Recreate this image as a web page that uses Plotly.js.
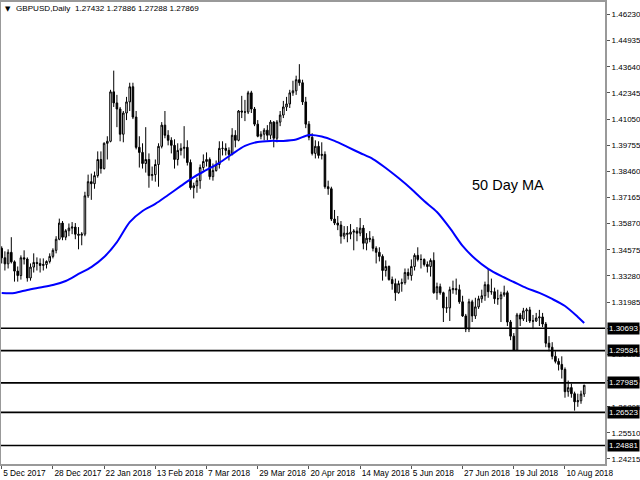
<!DOCTYPE html>
<html>
<head>
<meta charset="utf-8">
<script src="https://cdn.plot.ly/plotly-3.0.1.min.js"></script>
<style>html,body{margin:0;padding:0;background:#fff;}#chart{width:640px;height:480px;}</style>
</head>
<body>
<div id="chart"></div>
<script>
const dates = [
"2017-12-05","2017-12-06","2017-12-07","2017-12-08",
"2017-12-11","2017-12-12","2017-12-13","2017-12-14","2017-12-15",
"2017-12-18","2017-12-19","2017-12-20","2017-12-21","2017-12-22",
"2017-12-26","2017-12-27","2017-12-28","2017-12-29",
"2018-01-02","2018-01-03","2018-01-04","2018-01-05",
"2018-01-08","2018-01-09","2018-01-10","2018-01-11","2018-01-12",
"2018-01-15","2018-01-16","2018-01-17","2018-01-18","2018-01-19",
"2018-01-22","2018-01-23","2018-01-24","2018-01-25","2018-01-26",
"2018-01-29","2018-01-30","2018-01-31","2018-02-01","2018-02-02",
"2018-02-05","2018-02-06","2018-02-07","2018-02-08","2018-02-09",
"2018-02-12","2018-02-13","2018-02-14","2018-02-15","2018-02-16",
"2018-02-19","2018-02-20","2018-02-21","2018-02-22","2018-02-23",
"2018-02-26","2018-02-27","2018-02-28","2018-03-01","2018-03-02",
"2018-03-05","2018-03-06","2018-03-07","2018-03-08","2018-03-09",
"2018-03-12","2018-03-13","2018-03-14","2018-03-15","2018-03-16",
"2018-03-19","2018-03-20","2018-03-21","2018-03-22","2018-03-23",
"2018-03-26","2018-03-27","2018-03-28","2018-03-29","2018-03-30",
"2018-04-02","2018-04-03","2018-04-04","2018-04-05","2018-04-06",
"2018-04-09","2018-04-10","2018-04-11","2018-04-12","2018-04-13",
"2018-04-16","2018-04-17","2018-04-18","2018-04-19","2018-04-20",
"2018-04-23","2018-04-24","2018-04-25","2018-04-26","2018-04-27",
"2018-04-30","2018-05-01","2018-05-02","2018-05-03","2018-05-04",
"2018-05-07","2018-05-08","2018-05-09","2018-05-10","2018-05-11",
"2018-05-14","2018-05-15","2018-05-16","2018-05-17","2018-05-18",
"2018-05-21","2018-05-22","2018-05-23","2018-05-24","2018-05-25",
"2018-05-28","2018-05-29","2018-05-30","2018-05-31","2018-06-01",
"2018-06-04","2018-06-05","2018-06-06","2018-06-07","2018-06-08",
"2018-06-11","2018-06-12","2018-06-13","2018-06-14","2018-06-15",
"2018-06-18","2018-06-19","2018-06-20","2018-06-21","2018-06-22",
"2018-06-25","2018-06-26","2018-06-27","2018-06-28","2018-06-29",
"2018-07-02","2018-07-03","2018-07-04","2018-07-05","2018-07-06",
"2018-07-09","2018-07-10","2018-07-11","2018-07-12","2018-07-13",
"2018-07-16","2018-07-17","2018-07-18","2018-07-19","2018-07-20",
"2018-07-23","2018-07-24","2018-07-25","2018-07-26","2018-07-27",
"2018-07-30","2018-07-31","2018-08-01","2018-08-02","2018-08-03",
"2018-08-06","2018-08-07","2018-08-08","2018-08-09","2018-08-10",
"2018-08-13","2018-08-14","2018-08-15","2018-08-16","2018-08-17",
"2018-08-20"
];

const open = [
1.3465,1.3418,1.3388,1.3445,1.3398,1.3352,1.3330,1.3418,1.3412,1.3318,
1.3372,1.3395,1.3390,1.3380,1.3385,1.3400,1.3425,1.3455,1.3510,1.3590,
1.3520,1.3552,1.3565,1.3570,1.3535,1.3530,1.3535,1.3725,1.3795,1.3785,
1.3825,1.3905,1.3860,1.3985,1.3995,1.4240,1.4185,1.4155,1.4030,1.4135,
1.4190,1.4265,1.4115,1.3965,1.3940,1.3885,1.3905,1.3825,1.3830,1.3880,
1.3970,1.4075,1.4025,1.4000,1.3975,1.3905,1.3950,1.3960,1.3965,1.3890,
1.3765,1.3775,1.3800,1.3865,1.3895,1.3905,1.3820,1.3850,1.3880,1.3960,
1.3960,1.3950,1.3930,1.4025,1.4000,1.4145,1.4140,1.4140,1.4235,1.4155,
1.4080,1.4020,1.4030,1.4050,1.4025,1.4090,1.4010,1.4090,1.4125,1.4165,
1.4180,1.4235,1.4245,1.4300,1.4285,1.4190,1.4080,1.4015,1.3935,1.3970,
1.3925,1.3930,1.3770,1.3760,1.3610,1.3590,1.3580,1.3525,1.3540,1.3535,
1.3545,1.3550,1.3540,1.3565,1.3490,1.3515,1.3510,1.3465,1.3445,1.3425,
1.3355,1.3375,1.3310,1.3290,1.3245,1.3290,1.3295,1.3345,1.3330,1.3375,
1.3430,1.3410,1.3410,1.3385,1.3375,1.3405,1.3245,1.3275,1.3245,1.3170,
1.3170,1.3260,1.3265,1.3260,1.3200,1.3130,1.3065,1.3200,1.3130,1.3175,
1.3215,1.3230,1.3285,1.3250,1.3250,1.3215,1.3215,1.3235,1.3245,1.3100,
1.3030,1.2960,1.3135,1.3115,1.3155,1.3160,1.3105,1.3105,1.3120,1.3125,
1.3090,1.2995,1.2975,1.2930,1.2905,1.2890,1.2865,1.2755,1.2775,1.2745,
1.2705,1.2710,1.27432
];
const high = [
1.3475,1.3450,1.3460,1.3520,1.3405,1.3375,1.3430,1.3455,1.3420,1.3390,
1.3440,1.3420,1.3415,1.3415,1.3405,1.3440,1.3465,1.3525,1.3612,1.3600,
1.3560,1.3588,1.3595,1.3590,1.3570,1.3545,1.3745,1.3830,1.3835,1.3845,
1.3945,1.3945,1.3990,1.4020,1.4250,1.4345,1.4225,1.4165,1.4145,1.4215,
1.4285,1.4285,1.4145,1.4020,1.3985,1.4065,1.3935,1.3870,1.3905,1.3985,
1.4090,1.4145,1.4050,1.4015,1.4005,1.3985,1.3985,1.4070,1.4000,1.3905,
1.3790,1.3815,1.3880,1.3930,1.3940,1.3915,1.3885,1.3900,1.3995,1.3995,
1.3985,1.3965,1.4060,1.4050,1.4150,1.4220,1.4200,1.4245,1.4245,1.4165,
1.4100,1.4045,1.4060,1.4075,1.4100,1.4095,1.4100,1.4145,1.4195,1.4215,
1.4250,1.4295,1.4320,1.4377,1.4300,1.4215,1.4095,1.4035,1.4000,1.3995,
1.3990,1.3945,1.3800,1.3770,1.3655,1.3625,1.3600,1.3575,1.3575,1.3585,
1.3560,1.3570,1.3615,1.3580,1.3540,1.3550,1.3525,1.3475,1.3470,1.3435,
1.3405,1.3380,1.3325,1.3315,1.3305,1.3315,1.3365,1.3365,1.3410,1.3440,
1.3470,1.3435,1.3415,1.3400,1.3415,1.3445,1.3295,1.3290,1.3250,1.3225,
1.3275,1.3305,1.3315,1.3285,1.3230,1.3140,1.3215,1.3210,1.3220,1.3230,
1.3260,1.3300,1.3362,1.3315,1.3270,1.3260,1.3250,1.3280,1.3255,1.3110,
1.3045,1.3145,1.3145,1.3170,1.3170,1.3175,1.3135,1.3145,1.3160,1.3145,
1.3100,1.3030,1.3000,1.2955,1.2920,1.2930,1.2875,1.2810,1.2795,1.2755,
1.2745,1.2760,1.27886
];
const low = [
1.3390,1.3355,1.3365,1.3390,1.3300,1.3300,1.3310,1.3385,1.3300,1.3305,
1.3345,1.3355,1.3345,1.3355,1.3365,1.3390,1.3415,1.3440,1.3505,1.3505,
1.3505,1.3525,1.3535,1.3510,1.3460,1.3480,1.3525,1.3715,1.3705,1.3760,
1.3815,1.3835,1.3855,1.3905,1.3990,1.4165,1.4065,1.3995,1.3990,1.4100,
1.4145,1.4105,1.3955,1.3865,1.3860,1.3840,1.3765,1.3800,1.3795,1.3770,
1.3960,1.4010,1.3975,1.3935,1.3860,1.3875,1.3925,1.3910,1.3875,1.3755,
1.3712,1.3740,1.3760,1.3850,1.3870,1.3805,1.3800,1.3845,1.3860,1.3925,
1.3925,1.3900,1.3925,1.3965,1.3995,1.4110,1.4095,1.4130,1.4135,1.4070,
1.4015,1.4005,1.4000,1.4000,1.4005,1.3965,1.3990,1.4070,1.4110,1.4145,
1.4160,1.4220,1.4225,1.4270,1.4175,1.4060,1.4000,1.3925,1.3910,1.3910,
1.3905,1.3760,1.3730,1.3600,1.3580,1.3555,1.3488,1.3510,1.3495,1.3510,
1.3455,1.3500,1.3525,1.3460,1.3455,1.3495,1.3450,1.3390,1.3400,1.3305,
1.3325,1.3305,1.3260,1.3205,1.3240,1.3250,1.3285,1.3310,1.3305,1.3355,
1.3400,1.3365,1.3375,1.3345,1.3325,1.3240,1.3210,1.3235,1.3100,1.3145,
1.3105,1.3240,1.3235,1.3190,1.3125,1.3050,1.3050,1.3100,1.3115,1.3165,
1.3195,1.3205,1.3220,1.3235,1.3190,1.3185,1.3100,1.3225,1.3080,1.3010,
1.2957,1.2960,1.3080,1.3105,1.3100,1.3095,1.3065,1.3100,1.3080,1.3075,
1.2975,1.2955,1.2915,1.2895,1.2860,1.2820,1.2725,1.2730,1.2725,1.2661,
1.2680,1.2695,1.27288
];
const close = [
1.3418,1.3388,1.3445,1.3398,1.3352,1.3330,1.3418,1.3412,1.3318,1.3372,
1.3395,1.3390,1.3380,1.3385,1.3400,1.3425,1.3455,1.3510,1.3590,1.3520,
1.3552,1.3565,1.3570,1.3535,1.3530,1.3535,1.3725,1.3795,1.3785,1.3825,
1.3905,1.3860,1.3985,1.3995,1.4240,1.4185,1.4155,1.4030,1.4135,1.4190,
1.4265,1.4115,1.3965,1.3940,1.3885,1.3905,1.3825,1.3830,1.3880,1.3970,
1.4075,1.4025,1.4000,1.3975,1.3905,1.3950,1.3960,1.3965,1.3890,1.3765,
1.3775,1.3800,1.3865,1.3895,1.3905,1.3820,1.3850,1.3880,1.3960,1.3960,
1.3950,1.3930,1.4025,1.4000,1.4145,1.4140,1.4140,1.4235,1.4155,1.4080,
1.4020,1.4030,1.4050,1.4025,1.4090,1.4010,1.4090,1.4125,1.4165,1.4180,
1.4235,1.4245,1.4300,1.4285,1.4190,1.4080,1.4015,1.3935,1.3970,1.3925,
1.3930,1.3770,1.3760,1.3610,1.3590,1.3580,1.3525,1.3540,1.3535,1.3545,
1.3550,1.3540,1.3565,1.3490,1.3515,1.3510,1.3465,1.3445,1.3425,1.3355,
1.3375,1.3310,1.3290,1.3245,1.3290,1.3295,1.3345,1.3330,1.3375,1.3430,
1.3410,1.3410,1.3385,1.3375,1.3405,1.3245,1.3275,1.3245,1.3170,1.3170,
1.3260,1.3265,1.3260,1.3200,1.3130,1.3065,1.3200,1.3130,1.3175,1.3215,
1.3230,1.3285,1.3250,1.3250,1.3215,1.3215,1.3235,1.3245,1.3100,1.3030,
1.2960,1.3135,1.3115,1.3155,1.3160,1.3105,1.3105,1.3120,1.3125,1.3090,
1.2995,1.2975,1.2930,1.2905,1.2890,1.2865,1.2755,1.2775,1.2745,1.2705,
1.2710,1.2743,1.27869
];

const maDates = [
"2017-12-05","2017-12-11","2017-12-15","2017-12-21","2017-12-28","2018-01-04",
"2018-01-10","2018-01-16","2018-01-22","2018-01-26","2018-02-01","2018-02-07",
"2018-02-13","2018-02-19","2018-02-23","2018-03-01","2018-03-07","2018-03-13",
"2018-03-19","2018-03-23","2018-03-29","2018-04-04","2018-04-10","2018-04-16",
"2018-04-20","2018-04-26","2018-05-02","2018-05-08","2018-05-14","2018-05-18",
"2018-05-24","2018-05-30","2018-06-05","2018-06-11","2018-06-15","2018-06-21",
"2018-06-27","2018-07-03","2018-07-09","2018-07-13","2018-07-19","2018-07-25",
"2018-07-31","2018-08-06","2018-08-10","2018-08-16","2018-08-20"
];
const maValues = [
1.3244,1.3244,1.3259,1.3271,1.3283,1.3303,
1.3338,1.3372,1.3422,1.3496,1.3595,1.3650,
1.3685,1.3729,1.3774,1.3818,1.3853,1.3888,
1.3932,1.3972,1.3992,1.3997,1.3997,1.4004,
1.4026,1.4019,1.3997,1.3967,1.3937,1.3907,
1.3863,1.3813,1.3759,1.3699,1.3645,1.3566,
1.3477,1.3412,1.3363,1.3328,1.3298,1.3268,
1.3244,1.3214,1.3179,1.3125,1.3095
];

const tickDates = ["2017-12-05","2017-12-28","2018-01-22","2018-02-13","2018-03-07","2018-03-29",
"2018-04-20","2018-05-14","2018-06-05","2018-06-27","2018-07-19","2018-08-10"];
const tickLabels = ["5 Dec 2017","28 Dec 2017","22 Jan 2018","13 Feb 2018","7 Mar 2018","29 Mar 2018",
"20 Apr 2018","14 May 2018","5 Jun 2018","27 Jun 2018","19 Jul 2018","10 Aug 2018"];

const yTicks = [1.46230,1.44935,1.43640,1.42345,1.41050,1.39755,1.38460,1.37165,1.35870,
1.34575,1.33280,1.31985,1.30690,1.29395,1.28100,1.26805,1.25510,1.24215];

const levels = [1.30693,1.29584,1.27985,1.26523,1.24881];
const levelLabels = ["1.30693","1.29584","1.27985","1.26523","1.24881"];

const titleText = "GBPUSD,Daily  1.27432 1.27886 1.27288 1.27869";
const maLabel = "50 Day MA";

const FONT = "Liberation Sans, Arial, sans-serif";

const traces = [
  {
    type: "candlestick",
    x: dates, open: open, high: high, low: low, close: close,
    increasing: {line: {color: "#000000", width: 1}, fillcolor: "#ffffff"},
    decreasing: {line: {color: "#000000", width: 1}, fillcolor: "#000000"},
    whiskerwidth: 0,
    hoverinfo: "skip",
    showlegend: false
  },
  {
    type: "scatter", mode: "lines",
    x: maDates, y: maValues,
    line: {color: "#0000ff", width: 2, shape: "spline", smoothing: 0.8},
    hoverinfo: "skip", showlegend: false
  }
];

const shapes = levels.map(v => ({
  type: "line", xref: "paper", x0: 0, x1: 1, yref: "y", y0: v, y1: v,
  line: {color: "#000000", width: 1.6}, layer: "above"
}));

const annotations = levels.map((v, i) => ({
  xref: "paper", x: 1, xanchor: "left", xshift: 2,
  yref: "y", y: v, yanchor: "middle",
  text: levelLabels[i], showarrow: false,
  bgcolor: "#000000", borderpad: 1,
  font: {family: FONT, size: 8, color: "#ffffff"}
}));
annotations.push({
  xref: "paper", x: 0.003, xanchor: "left",
  yref: "paper", y: 0.985, yanchor: "middle",
  text: "▼", showarrow: false,
  font: {family: "DejaVu Sans, sans-serif", size: 7, color: "#000000"}
});
annotations.push({
  xref: "paper", x: 0.021, xanchor: "left",
  yref: "paper", y: 0.985, yanchor: "middle",
  text: titleText, showarrow: false,
  font: {family: FONT, size: 8.1, color: "#000000"}
});
annotations.push({
  xref: "paper", x: 0.776, xanchor: "left",
  yref: "y", y: 1.3779, yanchor: "middle",
  text: maLabel, showarrow: false,
  font: {family: FONT, size: 14.5, color: "#000000"}
});

const layout = {
  width: 640, height: 480,
  margin: {l: 1, r: 35, t: 2, b: 16, pad: 0},
  paper_bgcolor: "#ffffff", plot_bgcolor: "#ffffff",
  showlegend: false,
  hovermode: false,
  dragmode: false,
  xaxis: {
    type: "category",
    range: [-0.22, 188.5],
    rangeslider: {visible: false},
    tickmode: "array", tickvals: tickDates, ticktext: tickLabels,
    tickangle: 0,
    ticks: "outside", ticklen: 3, tickwidth: 1, tickcolor: "#555555",
    ticklabelposition: "outside right",
    tickfont: {family: FONT, size: 8.3, color: "#000000"},
    showgrid: false, zeroline: false,
    showline: true, mirror: true, linecolor: "#999999", linewidth: 2
  },
  yaxis: {
    side: "right",
    range: [1.23967, 1.46849],
    tickmode: "array", tickvals: yTicks, tickformat: ".5f",
    ticks: "outside", ticklen: 3, tickwidth: 1, tickcolor: "#555555",
    tickfont: {family: FONT, size: 8, color: "#000000"},
    showgrid: false, zeroline: false,
    showline: true, mirror: true, linecolor: "#999999", linewidth: 2
  },
  shapes: shapes,
  annotations: annotations
};

Plotly.newPlot("chart", traces, layout, {staticPlot: true, displayModeBar: false});
</script>
</body>
</html>
